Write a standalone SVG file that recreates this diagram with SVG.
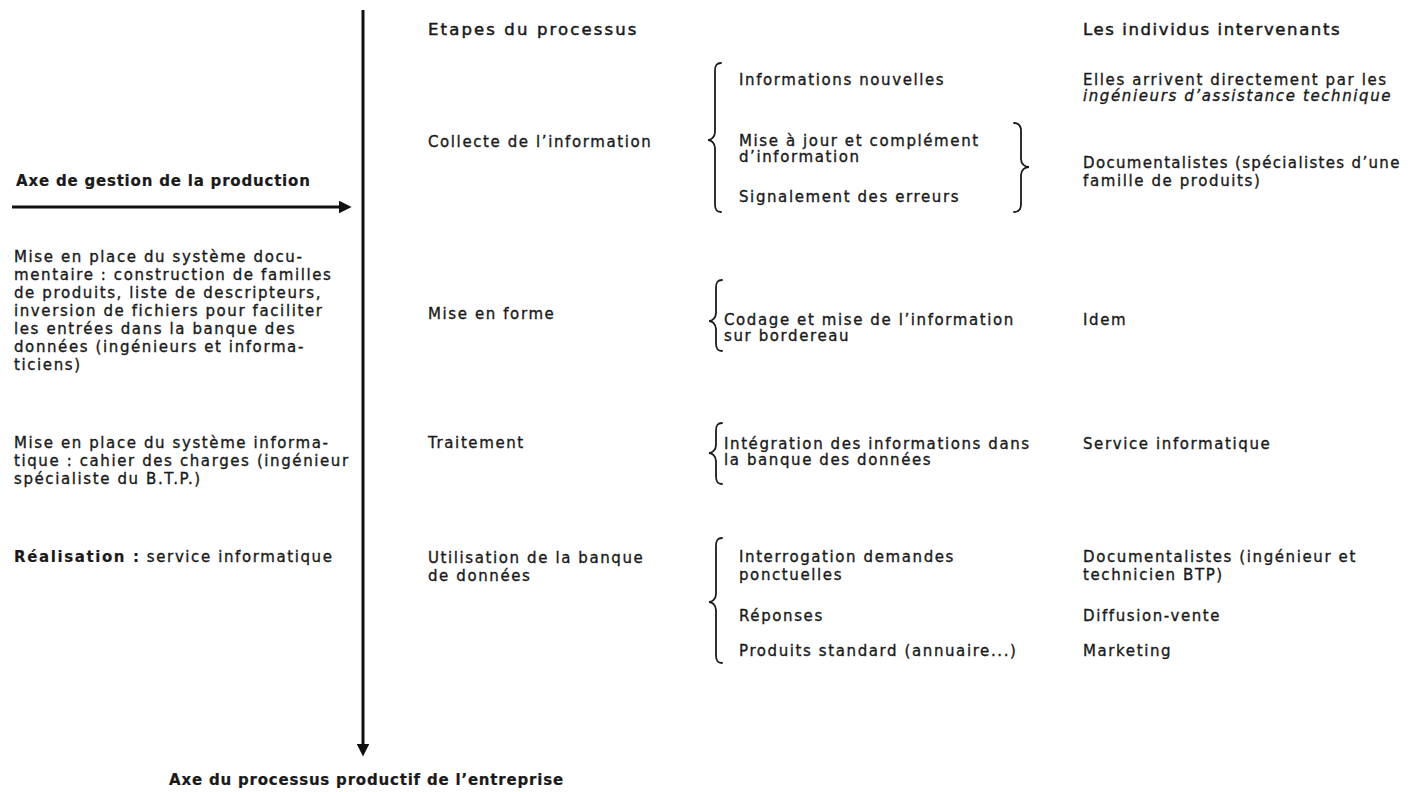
<svg xmlns="http://www.w3.org/2000/svg" width="1416" height="792" viewBox="0 0 1416 792">
  <style>
    text { font-family: "DejaVu Sans", "Liberation Sans", sans-serif; fill: #1a1a1a; stroke: #1a1a1a; stroke-width: 0.35px; }
    .t { font-size: 15px; letter-spacing: 1.6px; }
    .h { font-size: 16.5px; letter-spacing: 1.6px; stroke-width: 0.5px; }
    .b { font-size: 15px; font-weight: bold; letter-spacing: 0.8px; stroke-width: 0.2px; }
    .i { font-style: italic; }
    .axis { stroke: #111; stroke-width: 3; fill: none; }
    .brace { stroke: #1a1a1a; stroke-width: 1.8; fill: none; stroke-linecap: round; }
  </style>
  <defs>
    <marker id="head" viewBox="0 0 10 10" refX="0" refY="5" markerWidth="6" markerHeight="4.2" orient="auto" markerUnits="strokeWidth">
      <path d="M0,0 L10,5 L0,10 Z" fill="#111"/>
    </marker>
  </defs>
  <rect width="1416" height="792" fill="#fff"/>

  <!-- axes -->
  <g id="connectors">
    <path class="axis" d="M363,10 V744" marker-end="url(#head)"/>
    <path class="axis" d="M12,207 H339" marker-end="url(#head)"/>
  </g>

  <!-- column headers -->
  <g id="headers">
    <text class="h" x="428" y="35" textLength="210" lengthAdjust="spacing">Etapes du processus</text>
    <text class="h" x="1083" y="35">Les individus intervenants</text>
  </g>

  <!-- management axis, left column -->
  <g id="gestion">
    <text class="b" x="16" y="186">Axe de gestion de la production</text>
    <text class="t" x="14" y="262">Mise en place du système docu-</text>
    <text class="t" x="14" y="280">mentaire : construction de familles</text>
    <text class="t" x="14" y="298">de produits, liste de descripteurs,</text>
    <text class="t" x="14" y="316">inversion de fichiers pour faciliter</text>
    <text class="t" x="14" y="334">les entrées dans la banque des</text>
    <text class="t" x="14" y="352">données (ingénieurs et informa-</text>
    <text class="t" x="14" y="370">ticiens)</text>
    <text class="t" x="14" y="448">Mise en place du système informa-</text>
    <text class="t" x="14" y="466">tique : cahier des charges (ingénieur</text>
    <text class="t" x="14" y="484">spécialiste du B.T.P.)</text>
    <text class="t" x="14" y="562"><tspan font-weight="bold" stroke-width="0.15">Réalisation :</tspan> service informatique</text>
  </g>

  <!-- step 1 -->
  <g id="collecte">
    <text class="t" x="428" y="147">Collecte de l’information</text>
    <path class="brace" d="M721,63 C716,63 715,66 715,71 L715,132 C715,137 711,140 708,140 C711,140 715,143 715,148 L715,204 C715,209 716,212 721,212"/>
    <text class="t" x="739" y="85">Informations nouvelles</text>
    <text class="t" x="739" y="146">Mise à jour et complément</text>
    <text class="t" x="739" y="162">d’information</text>
    <text class="t" x="739" y="202">Signalement des erreurs</text>
    <path class="brace" d="M1014,123 C1019,123 1021,126 1021,131 L1021,159 C1021,164 1025,167 1029,167 C1025,167 1021,170 1021,175 L1021,204 C1021,209 1019,212 1014,212"/>
    <text class="t" x="1083" y="85">Elles arrivent directement par les</text>
    <text class="t i" x="1083" y="101">ingénieurs d’assistance technique</text>
    <text class="t" x="1083" y="168" textLength="318" lengthAdjust="spacing">Documentalistes (spécialistes d’une</text>
    <text class="t" x="1083" y="186">famille de produits)</text>
  </g>

  <!-- step 2 -->
  <g id="mise-en-forme">
    <text class="t" x="428" y="319">Mise en forme</text>
    <path class="brace" d="M722,280 C717,280 716,283 716,288 L716,313 C716,318 712,321 709,321 C712,321 716,324 716,329 L716,343 C716,348 717,351 722,351"/>
    <text class="t" x="724" y="325">Codage et mise de l’information</text>
    <text class="t" x="724" y="341">sur bordereau</text>
    <text class="t" x="1083" y="325">Idem</text>
  </g>

  <!-- step 3 -->
  <g id="traitement">
    <text class="t" x="428" y="448">Traitement</text>
    <path class="brace" d="M722,423 C717,423 716,426 716,431 L716,445 C716,450 712,453 709,453 C712,453 716,456 716,461 L716,476 C716,481 717,484 722,484"/>
    <text class="t" x="724" y="449">Intégration des informations dans</text>
    <text class="t" x="724" y="465">la banque des données</text>
    <text class="t" x="1083" y="449">Service informatique</text>
  </g>

  <!-- step 4 -->
  <g id="utilisation">
    <text class="t" x="428" y="563">Utilisation de la banque</text>
    <text class="t" x="428" y="581">de données</text>
    <path class="brace" d="M722,538 C717,538 716,541 716,546 L716,594 C716,599 712,602 709,602 C712,602 716,605 716,610 L716,655 C716,660 717,663 722,663"/>
    <text class="t" x="739" y="562">Interrogation demandes</text>
    <text class="t" x="739" y="580">ponctuelles</text>
    <text class="t" x="739" y="621">Réponses</text>
    <text class="t" x="739" y="656">Produits standard (annuaire...)</text>
    <text class="t" x="1083" y="562">Documentalistes (ingénieur  et</text>
    <text class="t" x="1083" y="580">technicien BTP)</text>
    <text class="t" x="1083" y="621">Diffusion-vente</text>
    <text class="t" x="1083" y="656">Marketing</text>
  </g>

  <!-- production axis label -->
  <g id="processus">
    <text class="b" x="169" y="785">Axe du processus productif de l’entreprise</text>
  </g>
</svg>
